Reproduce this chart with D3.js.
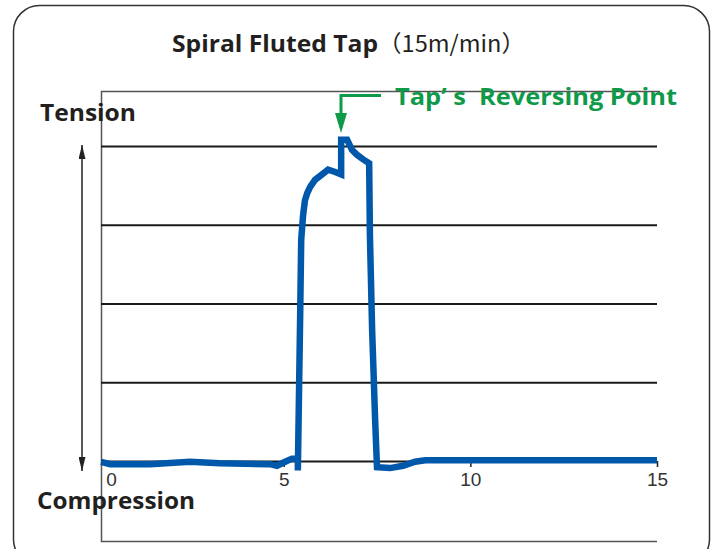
<!DOCTYPE html>
<html>
<head>
<meta charset="utf-8">
<script src="https://cdn.jsdelivr.net/npm/d3@7"></script>
<style>
  body { margin: 0; background: #fff; }
  svg { display: block; font-family: "Open Sans", "Noto Sans", sans-serif; }
</style>
</head>
<body>
<div id="chart"></div>
<script>
// time (x) vs force (y)
const timeValues = [0.11, 0.35, 1.42, 2.49, 3.29, 4.63, 4.82, 5.04, 5.22, 5.38, 5.38, 5.44, 5.47, 5.52, 5.57, 5.63, 5.71, 5.84, 6.03, 6.19, 6.38, 6.54, 6.54, 6.70, 6.83, 6.96, 7.13, 7.29, 7.31, 7.37, 7.45, 7.50, 7.85, 8.20, 8.52, 8.79, 15];
const forceValues = [-0.01, -0.04, -0.04, -0.01, -0.03, -0.04, -0.06, -0.01, 0.03, 0.03, -0.12, 1.79, 2.81, 3.12, 3.31, 3.40, 3.48, 3.57, 3.64, 3.70, 3.67, 3.64, 4.08, 4.08, 3.95, 3.89, 3.83, 3.78, 2.87, 1.66, 0.52, -0.08, -0.09, -0.06, -0.01, 0.01, 0.01];
const xTicks = [0, 5, 10, 15];
const gridLevels = [0, 1, 2, 3, 4];

const W = 713, H = 549;
const svg = d3.select('#chart').append('svg')
  .attr('width', W)
  .attr('height', H);

// outer rounded box
svg.append('rect')
  .attr('x', 13.5).attr('y', 5.5)
  .attr('width', 696).attr('height', 560)
  .attr('rx', 26)
  .attr('fill', 'none')
  .attr('stroke', '#333')
  .attr('stroke-width', 1.5);

const x = d3.scaleLinear().domain([0, 15]).range([97, 657]);
const y = d3.scaleLinear().domain([0, 4]).range([461, 146]);

// frame: left, top, bottom
svg.append('path')
  .attr('d', 'M660,91.5 H101.5 V541.5 H657')
  .attr('fill', 'none')
  .attr('stroke', '#555')
  .attr('stroke-width', 1.5);

// gridlines
const yAxis = d3.axisLeft(y).tickValues(gridLevels).tickSize(-556).tickFormat('');
const gy = svg.append('g').attr('transform', 'translate(101,0)').call(yAxis);
gy.select('.domain').remove();
gy.selectAll('.tick line').attr('stroke', '#1a1a1a').attr('stroke-width', 2);

// x axis
const xAxis = d3.axisBottom(x).tickValues(xTicks).tickSize(6).tickPadding(6);
const gx = svg.append('g').attr('transform', 'translate(0,461)').call(xAxis);
gx.select('.domain').remove();
gx.selectAll('.tick line').attr('stroke', '#222').attr('stroke-width', 1.5)
  .filter(d => d === 0).remove();
gx.selectAll('.tick text')
  .attr('font-family', '"Liberation Sans", Arial, sans-serif')
  .attr('font-size', 19)
  .attr('fill', '#333')
  .attr('dx', d => d === 0 ? 14 : 0);

// data line
const line = d3.line()
  .x((d, i) => x(timeValues[i]))
  .y(d => y(d));

svg.append('path')
  .datum(forceValues)
  .attr('d', line)
  .attr('fill', 'none')
  .attr('stroke', '#0058aa')
  .attr('stroke-width', 6.5)
  .attr('stroke-linejoin', 'miter');

// tension / compression arrow
svg.append('defs').append('marker')
  .attr('id', 'ah')
  .attr('viewBox', '0 0 14 7')
  .attr('refX', 14).attr('refY', 3.5)
  .attr('markerWidth', 14).attr('markerHeight', 7)
  .attr('markerUnits', 'userSpaceOnUse')
  .attr('orient', 'auto-start-reverse')
  .append('path').attr('d', 'M0,0 L14,3.5 L0,7 Z').attr('fill', '#222');

svg.append('line')
  .attr('x1', 82).attr('y1', 145)
  .attr('x2', 82).attr('y2', 471)
  .attr('stroke', '#222').attr('stroke-width', 1.5)
  .attr('marker-start', 'url(#ah)')
  .attr('marker-end', 'url(#ah)');

svg.append('text')
  .attr('x', 40).attr('y', 121)
  .attr('font-size', 24).attr('font-weight', 'bold').attr('fill', '#231f20')
  .attr('textLength', 96).attr('lengthAdjust', 'spacingAndGlyphs')
  .text('Tension');

svg.append('text')
  .attr('x', 37).attr('y', 509)
  .attr('font-size', 24).attr('font-weight', 'bold').attr('fill', '#231f20')
  .attr('textLength', 158).attr('lengthAdjust', 'spacingAndGlyphs')
  .text('Compression');

// title
const title = svg.append('text')
  .attr('x', 172).attr('y', 52)
  .attr('font-size', 23).attr('fill', '#231f20');
title.append('tspan').attr('font-weight', 'bold')
  .attr('textLength', 206).attr('lengthAdjust', 'spacingAndGlyphs')
  .text('Spiral Fluted Tap');
title.append('tspan').attr('x', 378)
  .attr('font-family', '"Noto Sans CJK JP", sans-serif')
  .attr('textLength', 147).attr('lengthAdjust', 'spacingAndGlyphs')
  .text('（15m/min）');

// reversing point callout
svg.append('path')
  .attr('d', 'M381,95.5 H341 V116')
  .attr('fill', 'none')
  .attr('stroke', '#0f9a4a')
  .attr('stroke-width', 3);
svg.append('path')
  .attr('d', 'M335,113 L347,113 L341,133 Z')
  .attr('fill', '#0f9a4a');

svg.append('text')
  .attr('x', 395).attr('y', 105)
  .attr('font-size', 24).attr('font-weight', 'bold').attr('fill', '#0f9a4a')
  .attr('xml:space', 'preserve')
  .style('white-space', 'pre')
  .attr('textLength', 282).attr('lengthAdjust', 'spacingAndGlyphs')
  .text('Tap’ s  Reversing Point');
</script>
</body>
</html>
